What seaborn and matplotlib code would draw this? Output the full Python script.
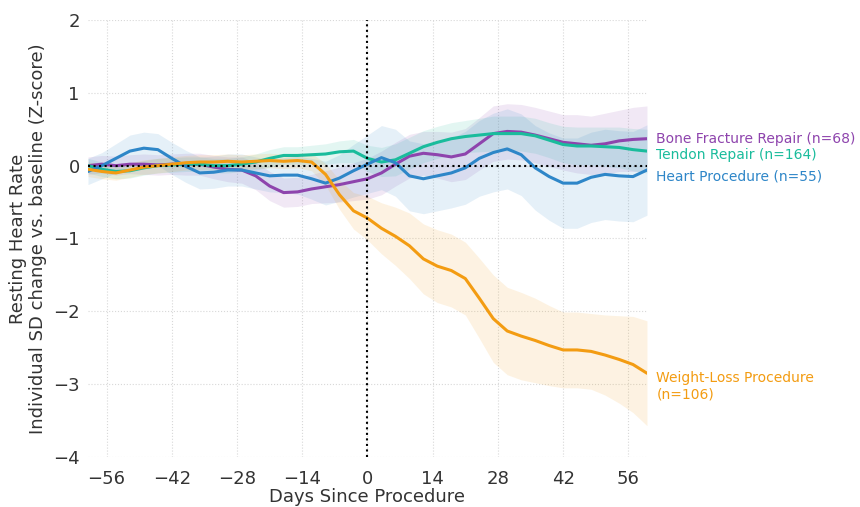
import numpy as np
import pandas as pd
import seaborn as sns
from matplotlib import pyplot as plt


days = list(range(-60, 61, 3))

# mean z-score per procedure group
bone_mean = [0.0, 0.02, 0.0, 0.02, 0.02, 0.01, 0.02, 0.02, 0.02, -0.02, -0.05, -0.06, -0.14, -0.28,
             -0.37, -0.36, -0.32, -0.29, -0.26, -0.22, -0.18, -0.1, 0.02, 0.13, 0.17, 0.15, 0.12,
             0.16, 0.3, 0.44, 0.47, 0.46, 0.42, 0.37, 0.32, 0.3, 0.28, 0.3, 0.34, 0.36, 0.37]
tendon_mean = [0.0, -0.05, -0.08, -0.07, -0.03, 0.0, 0.01, 0.02, 0.02, 0.0, 0.0, 0.02, 0.05, 0.1,
               0.14, 0.14, 0.15, 0.16, 0.19, 0.2, 0.1, 0.05, 0.08, 0.17, 0.26, 0.32, 0.37,
               0.4, 0.42, 0.44, 0.44, 0.44, 0.41, 0.35, 0.29, 0.27, 0.27, 0.26, 0.25, 0.22, 0.2]
heart_mean = [-0.08, 0.0, 0.1, 0.2, 0.24, 0.22, 0.1, -0.01, -0.1, -0.09, -0.06, -0.06, -0.1, -0.14,
              -0.13, -0.13, -0.18, -0.24, -0.17, -0.07, 0.02, 0.11, 0.04, -0.14, -0.18, -0.14, -0.1,
              -0.03, 0.1, 0.18, 0.23, 0.15, -0.03, -0.15, -0.24, -0.24, -0.16, -0.12, -0.14, -0.15, -0.06]
weight_mean = [-0.05, -0.08, -0.1, -0.06, -0.02, 0.0, 0.02, 0.04, 0.05, 0.05, 0.06, 0.05, 0.06, 0.07,
               0.06, 0.07, 0.05, -0.12, -0.4, -0.62, -0.72, -0.86, -0.97, -1.1, -1.28, -1.38, -1.44,
               -1.55, -1.82, -2.1, -2.27, -2.34, -2.4, -2.47, -2.53, -2.53, -2.55, -2.6, -2.66, -2.73, -2.85]

# half-width of the shaded band
bone_ci = [0.12, 0.12, 0.13, 0.13, 0.14, 0.14, 0.14, 0.15, 0.15, 0.16, 0.17, 0.18, 0.19, 0.2,
           0.2, 0.2, 0.2, 0.22, 0.24, 0.26, 0.28, 0.3, 0.3, 0.3, 0.3, 0.32, 0.34,
           0.35, 0.36, 0.38, 0.38, 0.38, 0.38, 0.38, 0.38, 0.4, 0.4, 0.42, 0.42, 0.44, 0.45]
tendon_ci = [0.1, 0.1, 0.1, 0.1, 0.1, 0.1, 0.1, 0.1, 0.1, 0.1, 0.1, 0.1, 0.11, 0.12,
             0.12, 0.12, 0.13, 0.14, 0.15, 0.16, 0.18, 0.2, 0.22, 0.22, 0.22, 0.22, 0.22,
             0.22, 0.23, 0.24, 0.24, 0.24, 0.24, 0.24, 0.25, 0.26, 0.26, 0.27, 0.28, 0.29, 0.3]
heart_ci = [0.18, 0.18, 0.2, 0.22, 0.22, 0.22, 0.22, 0.22, 0.22, 0.22, 0.22, 0.22, 0.22, 0.22,
            0.24, 0.26, 0.28, 0.3, 0.32, 0.36, 0.4, 0.44, 0.46, 0.48, 0.48, 0.48, 0.48,
            0.5, 0.52, 0.54, 0.55, 0.56, 0.58, 0.6, 0.62, 0.62, 0.62, 0.62, 0.62, 0.62, 0.62]
weight_ci = [0.1, 0.1, 0.1, 0.1, 0.1, 0.1, 0.1, 0.1, 0.1, 0.1, 0.1, 0.1, 0.1, 0.1,
             0.1, 0.1, 0.12, 0.15, 0.2, 0.25, 0.3, 0.35, 0.4, 0.45, 0.48, 0.5, 0.5,
             0.5, 0.55, 0.6, 0.6, 0.6, 0.58, 0.55, 0.52, 0.52, 0.52, 0.55, 0.6, 0.66, 0.72]

groups = ["Bone Fracture Repair", "Tendon Repair", "Heart Procedure", "Weight-Loss Procedure"]
labels = ["Bone Fracture Repair (n=68)", "Tendon Repair (n=164)", "Heart Procedure (n=55)",
          "Weight-Loss Procedure\n(n=106)"]
label_y = [0.36, 0.14, -0.15, -3.03]
colors = ["#8e44ad", "#1abc9c", "#2e86c8", "#f39c12"]

means = [bone_mean, tendon_mean, heart_mean, weight_mean]
cis = [bone_ci, tendon_ci, heart_ci, weight_ci]

frames = []
for g, m, c in zip(groups, means, cis):
    frames.append(pd.DataFrame({"day": days, "z": m, "ci": c, "group": g}))
df = pd.concat(frames, ignore_index=True)

sns.set_style("whitegrid", {"grid.linestyle": ":", "grid.color": "#d8d8d8"})
fig = plt.figure(figsize=(8.6, 5.07), dpi=100)
ax = fig.add_axes([0.1023, 0.0986, 0.65, 0.862])

for g, col in zip(groups, colors):
    sub = df[df["group"] == g]
    ax.fill_between(sub["day"], sub["z"] - sub["ci"], sub["z"] + sub["ci"],
                    color=col, alpha=0.12, linewidth=0)

sns.lineplot(data=df, x="day", y="z", hue="group", hue_order=groups,
             palette=colors, linewidth=2.2, legend=False, ax=ax)

ax.axhline(0, color="black", linestyle=":", linewidth=1.5, zorder=5)
ax.axvline(0, color="black", linestyle=":", linewidth=1.5, zorder=5)

for lab, y, col in zip(labels, label_y, colors):
    ax.text(62, y, lab, color=col, fontsize=10, va="center", ha="left", clip_on=False)

ax.set_xlim(-60, 60)
ax.set_ylim(-4, 2)
ax.set_xticks(range(-56, 57, 14))
ax.set_yticks(range(-4, 3))
ax.tick_params(labelsize=13, colors="#333333", length=0)
ax.tick_params(axis="x", pad=9)
ax.tick_params(axis="y", pad=6)
ax.set_xlabel("Days Since Procedure", fontsize=13, color="#333333", labelpad=0)
ax.set_ylabel("Resting Heart Rate\nIndividual SD change vs. baseline (Z-score)",
              fontsize=13, color="#333333", labelpad=4)
sns.despine(left=True, bottom=True)

fig.savefig("out.png", dpi=100)
